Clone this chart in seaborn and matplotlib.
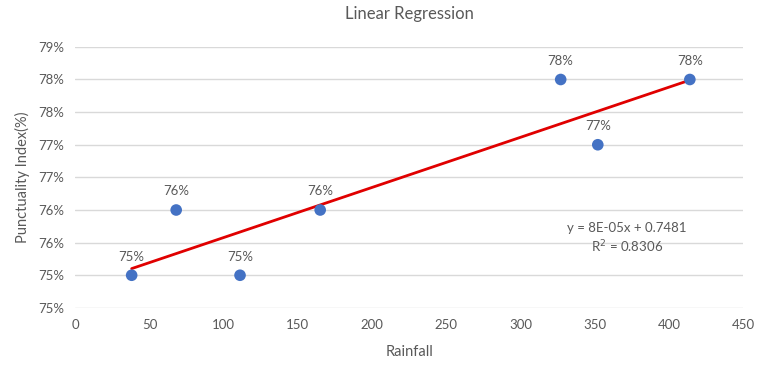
import numpy as np
import pandas as pd
import matplotlib
matplotlib.use("Agg")
import matplotlib.pyplot as plt
import seaborn as sns

# data
rainfall = [38, 68, 111, 165, 327, 352, 414]
punctuality = [0.75, 0.76, 0.75, 0.76, 0.78, 0.77, 0.78]
point_labels = ["75%", "76%", "75%", "76%", "78%", "77%", "78%"]
y_ticks = [0.745, 0.75, 0.755, 0.76, 0.765, 0.77, 0.775, 0.78, 0.785]
y_tick_labels = ["75%", "75%", "76%", "76%", "77%", "77%", "78%", "78%", "79%"]
x_ticks = [0, 50, 100, 150, 200, 250, 300, 350, 400, 450]
trend_eq = "y = 8E-05x + 0.7481"
trend_r2 = "R$^2$ = 0.8306"

df = pd.DataFrame({"Rainfall": rainfall, "Punctuality": punctuality})

sns.set_style("white")
plt.rcParams["font.family"] = ["Lato", "DejaVu Sans"]
grey = "#595959"

fig = plt.figure(figsize=(7.6, 3.75), dpi=100)
ax = fig.add_axes([0.099, 0.179, 0.879, 0.696])

ax.grid(axis="y", color="#d9d9d9", linewidth=1)
ax.set_axisbelow(True)

# linear trendline over the data range
sns.regplot(data=df, x="Rainfall", y="Punctuality", ax=ax, scatter=False, ci=None,
            line_kws={"color": "#e00000", "linewidth": 2, "zorder": 2})
sns.scatterplot(data=df, x="Rainfall", y="Punctuality", ax=ax, color="#4472c4",
                s=70, edgecolor="none", zorder=3)

for xv, yv, lab in zip(rainfall, punctuality, point_labels):
    ax.annotate(lab, (xv, yv), xytext=(0, 9), textcoords="offset points",
                ha="center", va="bottom", fontsize=9.5, color=grey)

ax.text(0.826, 0.305, trend_eq, transform=ax.transAxes, ha="center", va="center",
        fontsize=9.5, color=grey)
ax.text(0.826, 0.235, trend_r2, transform=ax.transAxes, ha="center",
        va="center", fontsize=9.5, color=grey)

ax.set_xlim(0, 450)
ax.set_ylim(0.745, 0.785)
ax.set_xticks(x_ticks)
ax.set_yticks(y_ticks)
ax.set_yticklabels(y_tick_labels)
ax.tick_params(axis="both", length=0, labelsize=9.5, labelcolor=grey, pad=8)

for s in ax.spines.values():
    s.set_visible(False)

ax.set_xlabel("Rainfall", fontsize=10.5, color=grey, labelpad=10)
ax.set_ylabel("Punctuality Index(%)", fontsize=10.5, color=grey, labelpad=6)
ax.set_title("Linear Regression", fontsize=12, color=grey, pad=20)

fig.savefig("out.png", dpi=100)
